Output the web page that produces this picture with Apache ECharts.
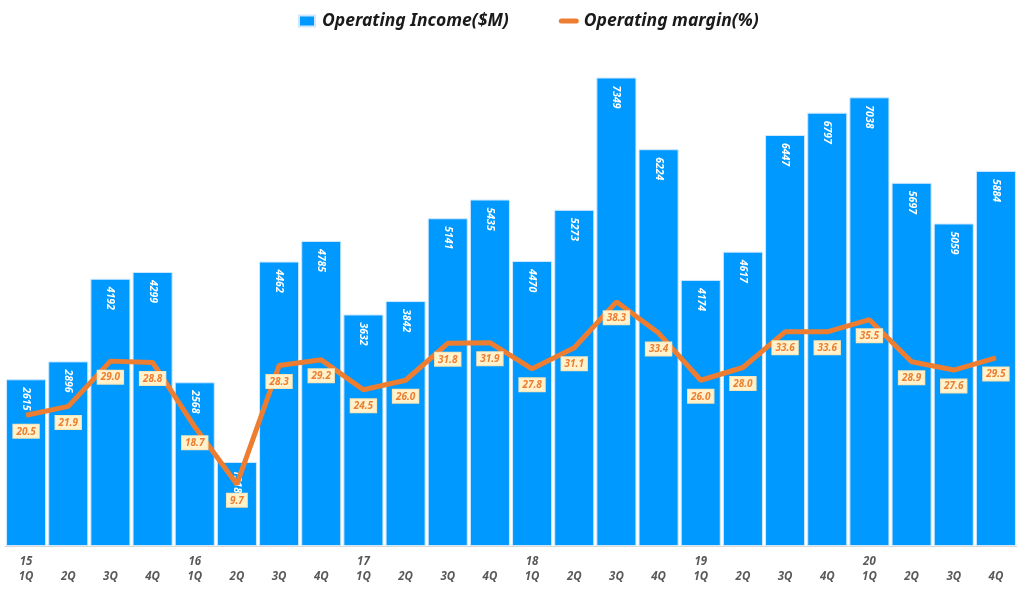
<!DOCTYPE html>
<html><head><meta charset="utf-8">
<script src="https://cdn.jsdelivr.net/npm/echarts@6/dist/echarts.min.js"></script>
<style>html,body{margin:0;padding:0;background:#fff}#c{width:1024px;height:595px}</style>
</head><body><div id="c"></div>
<script>
var quarters = ['1Q','2Q','3Q','4Q','1Q','2Q','3Q','4Q','1Q','2Q','3Q','4Q','1Q','2Q','3Q','4Q','1Q','2Q','3Q','4Q','1Q','2Q','3Q','4Q'];
var years = ['15','','','','16','','','','17','','','','18','','','','19','','','','20','','',''];
var income = [2615,2896,4192,4299,2568,1318,4462,4785,3632,3842,5141,5435,4470,5273,7349,6224,4174,4617,6447,6797,7038,5697,5059,5884];
var margin = [20.5,21.9,29.0,28.8,18.7,9.7,28.3,29.2,24.5,26.0,31.8,31.9,27.8,31.1,38.3,33.4,26.0,28.0,33.6,33.6,35.5,28.9,27.6,29.5];
var cats = quarters.map(function(q,i){return years[i] + '\n' + q;});
var FONT = '"Noto Sans", "Open Sans", sans-serif';
var chart = echarts.init(document.getElementById('c'));
chart.setOption({
  animation: false,
  textStyle: {fontFamily: FONT},
  legend: {
    top: 7, left: 293, itemGap: 50, itemWidth: 20, itemHeight: 11,
    textStyle: {fontSize: 17.5, fontStyle: 'italic', fontWeight: 'bold', color: '#1a1a1a', fontFamily: FONT},
    data: [
      {name: 'Operating Income($M)', icon: 'path://M0,0 L16,0 L16,11 L0,11 Z', itemStyle: {color: '#0099FF'}},
      {name: 'Operating margin(%)', icon: 'path://M2.5,0 L17.5,0 A2.5,2.5 0 0 1 17.5,5 L2.5,5 A2.5,2.5 0 0 1 2.5,0 Z', itemStyle: {color: '#ED7D31'}}
    ]
  },
  grid: {left: 5, right: 7, top: 36, bottom: 49},
  xAxis: {
    type: 'category', data: cats,
    axisLine: {lineStyle: {color: '#d9d9d9'}}, axisTick: {show: false},
    axisLabel: {color: '#595959', fontSize: 11.5, fontStyle: 'italic', fontWeight: 'bold', lineHeight: 15, margin: 8, interval: 0}
  },
  yAxis: [
    {type: 'value', min: 0, max: 8000, show: false, splitLine: {show: false}},
    {type: 'value', min: 0, max: 80, show: false, splitLine: {show: false}}
  ],
  series: [
    {
      name: 'Operating Income($M)', type: 'bar', data: income, barCategoryGap: '5%',
      itemStyle: {color: '#0099FF', borderColor: '#cfe8ff', borderWidth: 1},
      label: {show: true, position: 'insideTop', rotate: -90, align: 'left', verticalAlign: 'middle', distance: 8,
        color: '#fff', fontSize: 10.5, fontStyle: 'italic', fontWeight: 'bold'}
    },
    {
      name: 'Operating margin(%)', type: 'line', yAxisIndex: 1, data: margin,
      symbol: 'circle', symbolSize: 1, showSymbol: true, z: 5,
      lineStyle: {color: '#ED7D31', width: 5}, itemStyle: {color: '#ED7D31'},
      labelLayout: {hideOverlap: false},
      label: {show: true, position: 'bottom', distance: 9, formatter: function(p){return p.value.toFixed(1);},
        color: '#ED7D31', fontSize: 10, fontStyle: 'italic', fontWeight: 'bold',
        backgroundColor: '#FFF2CC', borderColor: '#F4E3B5', borderWidth: 1, padding: [2, 3, 1, 3]}
    }
  ]
});
</script></body></html>
